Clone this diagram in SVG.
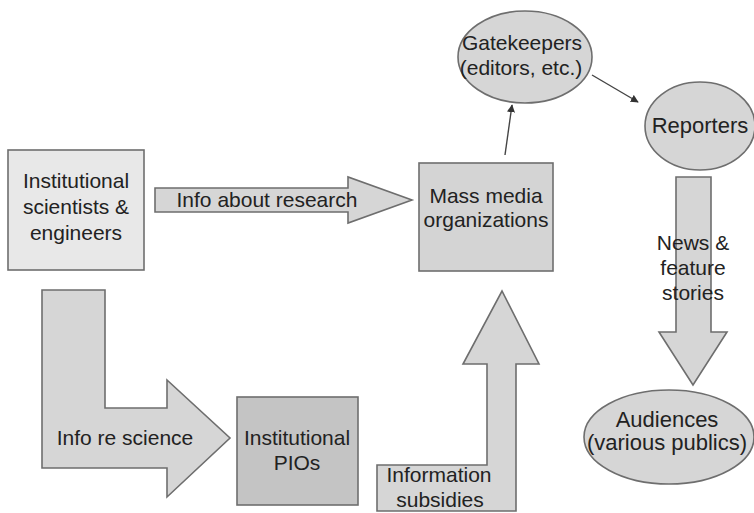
<svg xmlns="http://www.w3.org/2000/svg" width="754" height="513" viewBox="0 0 754 513">
<defs>
<style>
.shape{fill:#d6d6d6;stroke:#6e6e6e;stroke-width:1.6}
.t{font-family:"Liberation Sans",Arial,sans-serif;font-size:21px;fill:#222;text-anchor:middle}
.conn{stroke:#444;stroke-width:1.4;fill:none}
</style>
<marker id="ah" viewBox="0 0 10 10" refX="9" refY="5" markerWidth="8" markerHeight="8" markerUnits="userSpaceOnUse" orient="auto">
<path d="M0,0 L10,5 L0,10 z" fill="#333"/>
</marker>
</defs>
<rect width="754" height="513" fill="#fff"/>
<g id="connectors">
<g id="arrow-info-research">
<path class="shape" d="M155,188 L348,188 L348,177 L412,200 L348,223 L348,212 L155,212 Z"/>
<text class="t" x="267" y="207">Info about research</text>
</g>
<g id="arrow-info-science">
<path class="shape" d="M42,290 L105,290 L105,408 L167,408 L167,380 L230,438 L167,497 L167,468 L42,468 Z"/>
<text class="t" x="125" y="445">Info re science</text>
</g>
<g id="arrow-subsidies">
<path class="shape" d="M377,465 L487,465 L487,364 L463,364 L502,291 L539,364 L516,364 L516,511 L377,511 Z"/>
<text class="t" x="439" y="482">Information</text>
<text class="t" x="440" y="507">subsidies</text>
</g>
<g id="arrow-news">
<path class="shape" d="M676,177 L711,177 L711,332 L727,332 L693,385 L659,332 L676,332 Z"/>
<text class="t" x="693" y="250">News &amp;</text>
<text class="t" x="693" y="275">feature</text>
<text class="t" x="693" y="300">stories</text>
</g>
<line class="conn" x1="505" y1="155" x2="512" y2="105" marker-end="url(#ah)"/>
<line class="conn" x1="592" y1="75" x2="638" y2="102" marker-end="url(#ah)"/>
</g>
<g id="scientists">
<rect class="shape" x="8" y="150" width="136" height="120" fill="#e8e8e8" style="fill:#e8e8e8"/>
<text class="t" x="76" y="188">Institutional</text>
<text class="t" x="76" y="214">scientists &amp;</text>
<text class="t" x="76" y="240">engineers</text>
</g>
<g id="massmedia">
<rect class="shape" x="419" y="163" width="134" height="108" style="fill:#d4d4d4"/>
<text class="t" x="486" y="203">Mass media</text>
<text class="t" x="486" y="227">organizations</text>
</g>
<g id="pios">
<rect class="shape" x="237" y="397" width="121" height="108" style="fill:#c4c4c4"/>
<text class="t" x="297" y="445">Institutional</text>
<text class="t" x="297" y="470">PIOs</text>
</g>
<g id="gatekeepers">
<ellipse class="shape" cx="525" cy="57" rx="67" ry="46"/>
<text class="t" x="522" y="50">Gatekeepers</text>
<text class="t" x="521" y="75">(editors, etc.)</text>
</g>
<g id="reporters">
<ellipse class="shape" cx="700" cy="126" rx="55" ry="44"/>
<text class="t" x="700" y="133" style="font-size:22px">Reporters</text>
</g>
<g id="audiences">
<ellipse class="shape" cx="669" cy="437" rx="85" ry="47"/>
<text class="t" x="667" y="427" style="font-size:22px">Audiences</text>
<text class="t" x="667" y="450" style="font-size:22px">(various publics)</text>
</g>
</svg>
